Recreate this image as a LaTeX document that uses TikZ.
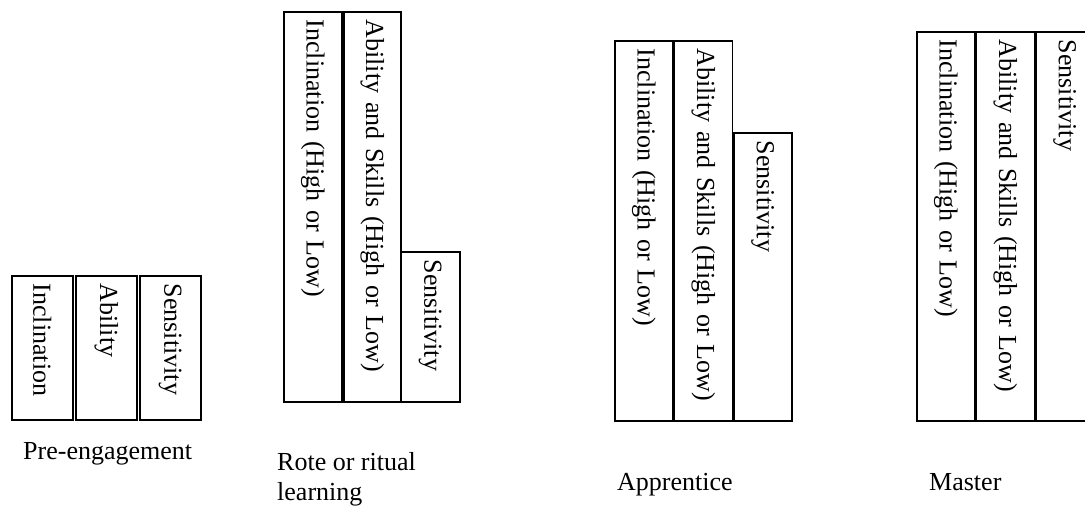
\documentclass[tikz,border=0pt]{standalone}
\usepackage{fontspec}
\setmainfont{Liberation Serif}
\usepackage{tikz}

\tikzset{
  bar/.style={draw, line width=1.5pt, rotate=-90, anchor=south west,
    align=left, inner xsep=8pt, inner ysep=0pt,
    font=\fontsize{26}{30}\selectfont},
  stage/.style={inner sep=0pt, align=left, font=\fontsize{26}{30}\selectfont}
}

\begin{document}
\begin{tikzpicture}[x=1pt,y=-1pt]
\useasboundingbox (0,0) rectangle (1085,506);

% pre-engagement
\node[bar, text width=128pt, minimum height=61pt] (preincl) at (11,275) {Inclination};
\node[bar, text width=128pt, minimum height=61pt] (preabil) at (75,275) {Ability};
\node[bar, text width=128pt, minimum height=61pt] (presens) at (139,275) {Sensitivity};
\node[stage, anchor=base west] (prelabel) at (23,459) {Pre-engagement};

% rote or ritual learning
\node[bar, text width=374pt, minimum height=58pt] (roteincl) at (283,11) {Inclination (High or Low)};
\node[bar, text width=374pt, minimum height=57pt] (roteabil) at (343,11) {Ability and Skills (High or Low)};
\node[bar, text width=134pt, minimum height=59pt] (rotesens) at (400,251) {Sensitivity};
\node[stage, anchor=north west] (rotelabel) at (277,452) {Rote or ritual\\learning};

% apprentice
\node[bar, text width=364pt, minimum height=58pt] (appincl) at (614,40) {Inclination (High or Low)};
\node[bar, text width=364pt, minimum height=58pt] (appabil) at (673.5,40) {Ability and Skills (High or Low)};
\node[bar, text width=272pt, minimum height=58pt] (appsens) at (733,132) {Sensitivity};
\node[stage, anchor=base west] (applabel) at (617,490) {Apprentice};

% master
\node[bar, text width=373pt, minimum height=58pt] (masincl) at (916,31) {Inclination (High or Low)};
\node[bar, text width=373pt, minimum height=58pt] (masabil) at (975.5,31) {Ability and Skills (High or Low)};
\node[bar, text width=373pt, minimum height=58pt] (massens) at (1035,31) {Sensitivity};
\node[stage, anchor=base west] (maslabel) at (929,490) {Master};
\end{tikzpicture}
\end{document}
